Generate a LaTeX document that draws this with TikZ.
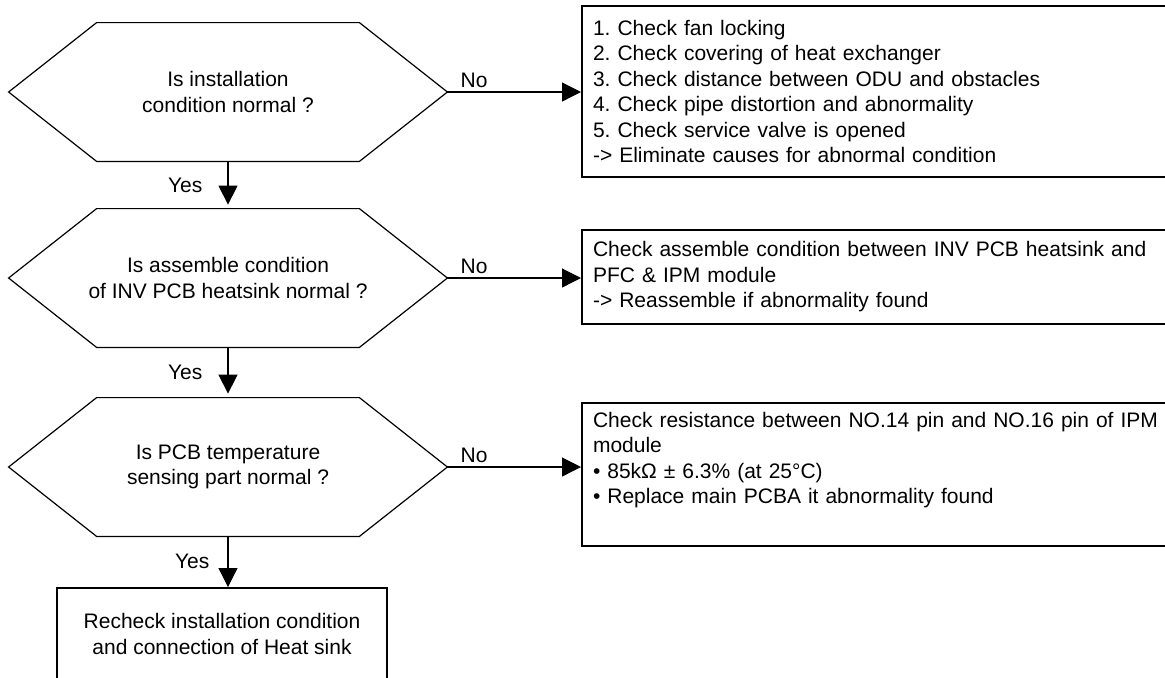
\documentclass[tikz,border=0pt]{standalone}
\usepackage{fontspec}
\setmainfont{Liberation Sans}
\usepackage{tikz}
\usetikzlibrary{arrows.meta,positioning,calc}
\frenchspacing

\begin{document}
\begin{tikzpicture}[
    >={Triangle[length=9.5pt,width=9.5pt]},
    every node/.style={font=\fontsize{10.5pt}{12.75pt}\selectfont},
    decision/.style={minimum width=219pt, minimum height=69pt,
                     align=center, inner sep=0pt},
    actionbox/.style={draw, line width=1pt, anchor=north west,
                      minimum width=297pt, text width=286pt,
                      inner xsep=5.5pt, align=left},
    endbox/.style={draw, line width=1pt, minimum width=165pt,
                   minimum height=46pt, align=center},
    flow/.style={->, line width=0.6pt},
    lbl/.style={inner sep=2pt},
]

% --- Frame (boxes run off the right and bottom edge) ---
\path[use as bounding box, clip] (0,0) rectangle (582.5pt,-338.5pt);

% --- Decisions ---
\node[decision] (inst) at (114pt,-46pt)
    {Is installation\\condition normal ?};
\node[decision] (assem) at (114pt,-139pt)
    {Is assemble condition\\of INV PCB heatsink normal ?};
\node[decision] (sense) at (114pt,-233.5pt)
    {Is PCB temperature\\sensing part normal ?};

% hexagon outlines round the decisions
\foreach \d in {inst,assem,sense}
    \draw[line width=0.6pt] (\d.west) -- ([xshift=44pt]\d.north west)
        -- ([xshift=-44pt]\d.north east) -- (\d.east)
        -- ([xshift=-44pt]\d.south east) -- ([xshift=44pt]\d.south west)
        -- cycle;

% --- Final check ---
\node[endbox] (recheck) at (111pt,-317pt)
    {Recheck installation condition\\and connection of Heat sink};

% --- Actions when No ---
\node[actionbox, minimum height=85.5pt] (instfix) at (290.5pt,-2.5pt)
    {1. Check fan locking\\
     2. Check covering of heat exchanger\\
     3. Check distance between ODU and obstacles\\
     4. Check pipe distortion and abnormality\\
     5. Check service valve is opened\\
     -> Eliminate causes for abnormal condition};
\node[actionbox, minimum height=47pt] (assemfix) at (290.5pt,-114.5pt)
    {Check assemble condition between INV PCB heatsink and\\
     PFC \& IPM module\\
     -> Reassemble if abnormality found};
\node[actionbox, minimum height=71.5pt] (sensefix) at (290.5pt,-201pt)
    {Check resistance between NO.14 pin and NO.16 pin of IPM\\
     module\\
     • 85kΩ ± 6.3\% (at 25°C)\\
     • Replace main PCBA it abnormality found\\
     \strut};

% --- Arrows ---
\draw[flow] (inst.east) -- node[lbl, pos=0.2, above] {No}
    (inst.east -| instfix.west);
\draw[flow] (assem.east) -- node[lbl, pos=0.2, above] {No}
    (assem.east -| assemfix.west);
\draw[flow] (sense.east) -- node[lbl, pos=0.2, above] {No}
    (sense.east -| sensefix.west);

\draw[flow, shorten >=2pt] (inst.south) -- node[lbl, left=10.5pt] {Yes}
    (assem.north);
\draw[flow, shorten >=2pt] (assem.south) -- node[lbl, left=10.5pt] {Yes}
    (sense.north);
\draw[flow] (sense.south) -- node[lbl, left=7pt] {Yes}
    (sense.south |- recheck.north);

\end{tikzpicture}
\end{document}
